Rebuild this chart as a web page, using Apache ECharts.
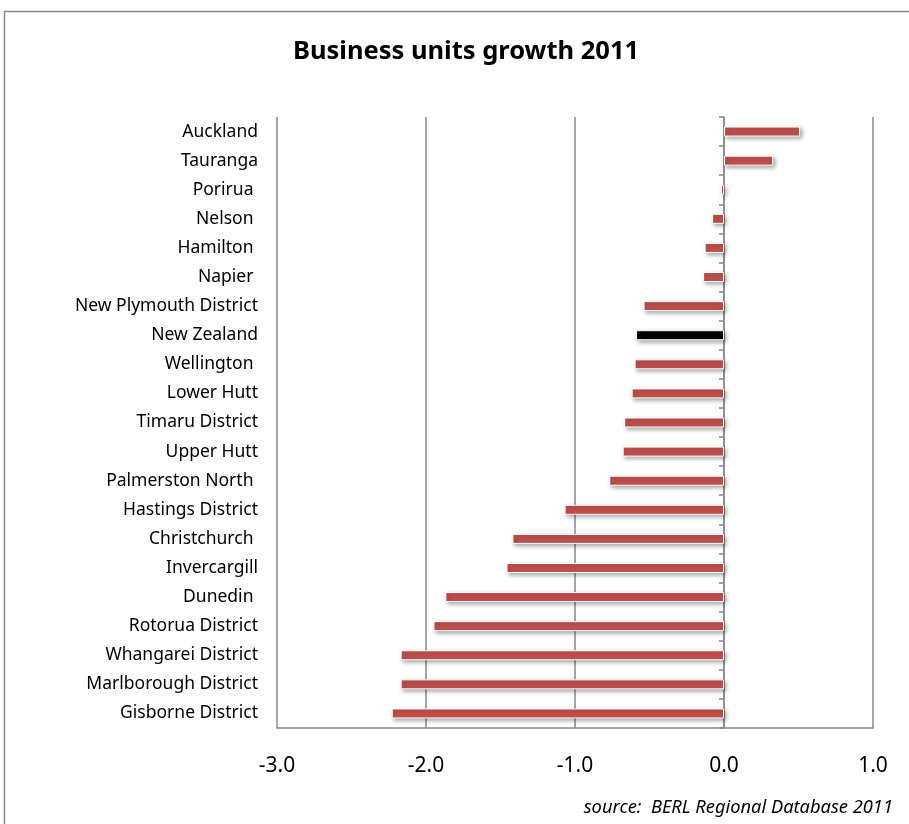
<!DOCTYPE html>
<html><head><meta charset="utf-8">
<script src="https://cdn.jsdelivr.net/npm/echarts@6/dist/echarts.min.js"></script>
<style>html,body{margin:0;padding:0;background:#fff}#c{width:909px;height:824px}</style>
</head><body><div id="c"></div>
<script>
const categories = ["Auckland","Tauranga","Porirua ","Nelson ","Hamilton ","Napier ","New Plymouth District","New Zealand","Wellington ","Lower Hutt","Timaru District","Upper Hutt","Palmerston North ","Hastings District","Christchurch ","Invercargill","Dunedin ","Rotorua District","Whangarei District","Marlborough District","Gisborne District"];
const values = [0.51,0.33,-0.02,-0.08,-0.13,-0.14,-0.54,-0.59,-0.60,-0.62,-0.67,-0.68,-0.77,-1.07,-1.42,-1.46,-1.87,-1.95,-2.17,-2.17,-2.23];
const highlight = "New Zealand";
const xTicks = {min:-3, max:1, interval:1};

const chart = echarts.init(document.getElementById('c'), null, {renderer:'canvas'});
const FONT = 'Noto Sans';
chart.setOption({
  animation:false,
  backgroundColor:'#fff',
  title:{text:'Business units growth 2011', left:461, top:34, textAlign:'center',
    textStyle:{fontFamily:FONT, fontWeight:'bold', fontSize:25.5, color:'#000'}},
  graphic:[
    {type:'rect', shape:{x:4.5,y:11.5,width:920,height:830}, style:{fill:null, stroke:'#8a8a8a', lineWidth:1.5}, silent:true},
    {type:'text', right:16, top:799, style:{text:'source:  BERL Regional Database 2011', fontFamily:FONT, fontStyle:'italic', fontSize:18.3, fill:'#000'}}
  ],
  grid:{left:277, right:36, top:117, bottom:96},
  xAxis:{type:'value', min:xTicks.min, max:xTicks.max, interval:xTicks.interval,
    axisLine:{show:true, onZero:false, lineStyle:{color:'#888', width:1.5}},
    axisTick:{show:false},
    splitLine:{show:true, lineStyle:{color:'#888', width:1.5}},
    axisLabel:{margin:28, fontFamily:FONT, fontSize:21, color:'#000', formatter:v=>v.toFixed(1)}},
  yAxis:[
    {type:'category', data:categories, inverse:true,
     axisLine:{show:false, onZero:false}, axisTick:{show:false},
     axisLabel:{margin:19, fontFamily:FONT, fontSize:17.5, color:'#000', padding:[2,0,0,0]}},
    {type:'category', data:categories, inverse:true, position:'left',
     axisLine:{show:true, onZero:true, lineStyle:{color:'#888', width:1.5}},
     axisTick:{show:true, length:5, lineStyle:{color:'#888', width:1.5}},
     axisLabel:{show:false}}
  ],
  series:[{type:'bar', yAxisIndex:0, barWidth:10,
    data:categories.map((c,i)=>({value:values[i], itemStyle:{color: c===highlight ? '#000' : '#C0504D'}})),
    itemStyle:{borderColor:'#fff', borderWidth:1, shadowColor:'rgba(0,0,0,0.35)', shadowBlur:4, shadowOffsetX:2, shadowOffsetY:2}
  }]
});
</script></body></html>
